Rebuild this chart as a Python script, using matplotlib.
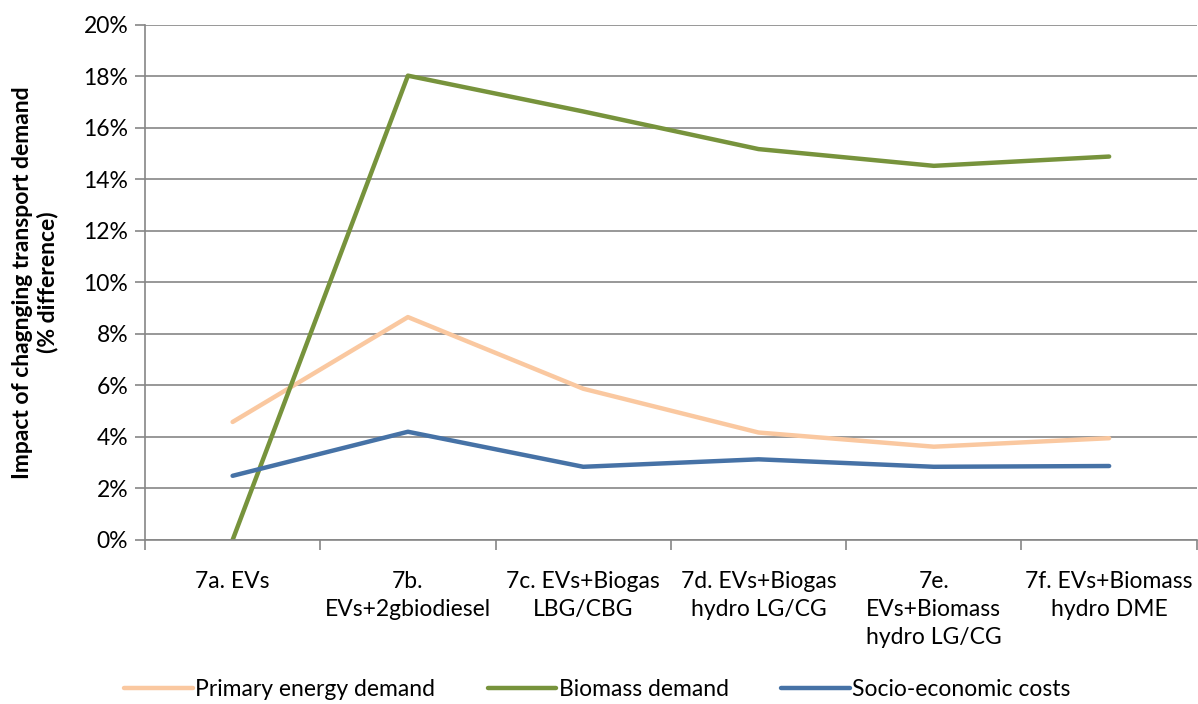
import numpy as np
import matplotlib.pyplot as plt
from matplotlib.ticker import PercentFormatter

# dados
categorias = ["7a. EVs", "7b.\nEVs+2gbiodiesel", "7c. EVs+Biogas\nLBG/CBG",
              "7d. EVs+Biogas\nhydro LG/CG", "7e.\nEVs+Biomass\nhydro LG/CG",
              "7f. EVs+Biomass\nhydro DME"]
primary_energy = [4.58, 8.65, 5.87, 4.17, 3.62, 3.95]
biomass = [0.0, 18.02, 16.63, 15.17, 14.52, 14.88]
socio_econ = [2.49, 4.20, 2.84, 3.13, 2.84, 2.87]

plt.rcParams['font.family'] = ['Lato', 'DejaVu Sans']
fs = 16.5

fig = plt.figure(figsize=(11.98, 7.04), dpi=100)
ax = fig.add_axes([0.121, 0.233, 0.878, 0.732])

x = np.arange(len(categorias))
ax.plot(x, primary_energy, color='#FAC8A0', lw=3.2, label='Primary energy demand', solid_capstyle='round')
ax.plot(x, biomass, color='#77933C', lw=3.2, label='Biomass demand', solid_capstyle='round')
ax.plot(x, socio_econ, color='#4672A6', lw=3.2, label='Socio-economic costs', solid_capstyle='round')

ax.set_xlim(-0.5, len(categorias) - 0.5)
ax.set_ylim(0, 20)
ax.set_yticks(np.arange(0, 21, 2))
ax.yaxis.set_major_formatter(PercentFormatter(decimals=0))
ax.grid(axis='y', color='#868686', lw=1.2)
ax.set_axisbelow(True)

# ticks do eixo x nas fronteiras das categorias
ax.set_xticks(np.arange(-0.5, len(categorias)), minor=False)
ax.set_xticklabels([])
ax.set_xticks(x, minor=True)
ax.set_xticklabels(categorias, minor=True, fontsize=fs, linespacing=1.42)
ax.tick_params(axis='x', which='minor', length=0, pad=22)
ax.tick_params(axis='x', which='major', length=7, color='#868686', width=1.2)
ax.tick_params(axis='y', length=7, color='#868686', width=1.2, labelsize=fs, pad=5)

for s in ['top', 'right']:
    ax.spines[s].set_visible(False)
for s in ['left', 'bottom']:
    ax.spines[s].set_color('#868686')
    ax.spines[s].set_linewidth(1.2)

ax.set_ylabel('Impact of chagnging transport demand\n(% difference)', fontsize=fs,
              fontweight='bold', linespacing=1.2, labelpad=18)

ax.legend(loc='lower center', bbox_to_anchor=(0.43, -0.35), ncol=3, frameon=False,
          fontsize=fs, handlelength=3.0, handletextpad=0.1, columnspacing=2.3)

plt.savefig("out.png", dpi=100)
